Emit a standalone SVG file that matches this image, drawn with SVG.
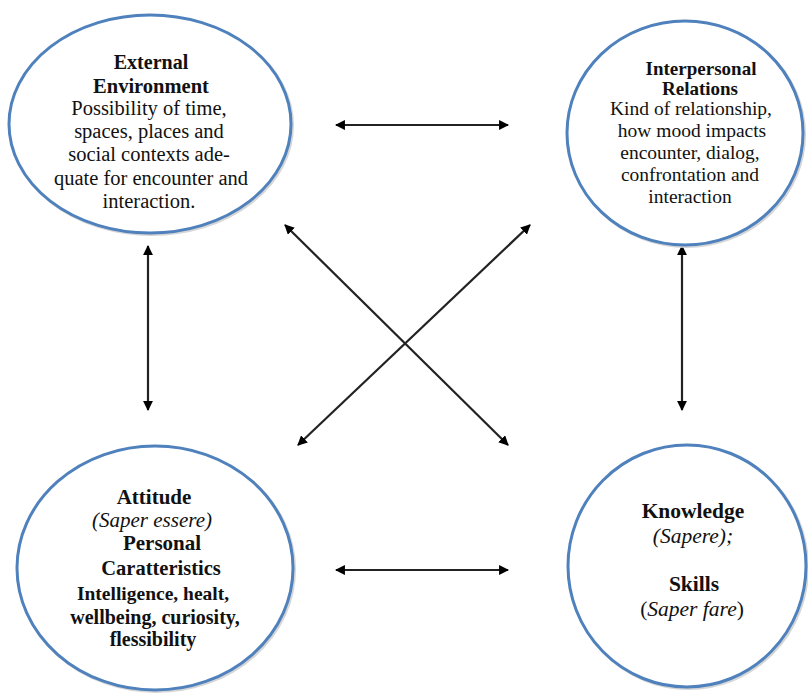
<svg xmlns="http://www.w3.org/2000/svg" width="808" height="693" viewBox="0 0 808 693">
<defs>
<marker id="ah" viewBox="0 0 10 10" refX="9" refY="5" markerWidth="4.5" markerHeight="4.5" orient="auto-start-reverse" markerUnits="strokeWidth">
<path d="M0,0 L10,5 L0,10 z" fill="#000"/>
</marker>
</defs>
<rect width="808" height="693" fill="#fff"/>
<g id="connectors" stroke="#222" stroke-width="2.2" fill="none" marker-start="url(#ah)" marker-end="url(#ah)">
<line x1="336" y1="125" x2="508" y2="125"/>
<line x1="336" y1="570" x2="508" y2="570"/>
<line x1="148" y1="246" x2="148" y2="410"/>
<line x1="682" y1="246" x2="682" y2="410"/>
<line x1="285" y1="225" x2="508" y2="445"/>
<line x1="530" y1="225" x2="298" y2="445"/>
</g>
<g id="external-environment">
<ellipse cx="151.5" cy="125.5" rx="141" ry="109" fill="none" stroke="#d6d6d6" stroke-width="3"/>
<ellipse cx="150" cy="124" rx="141" ry="109" fill="#fff" stroke="#4f81bd" stroke-width="3"/>
<text font-family="Liberation Serif" font-size="20" font-weight="bold" fill="#111" text-anchor="middle" x="151" y="69">External</text>
<text font-family="Liberation Serif" font-size="20.5" font-weight="bold" fill="#111" text-anchor="middle" x="151" y="93">Environment</text>
<text font-family="Liberation Serif" font-size="20.5" fill="#111" text-anchor="middle" x="149" y="115">Possibility of time,</text>
<text font-family="Liberation Serif" font-size="20.5" fill="#111" text-anchor="middle" x="149" y="138">spaces, places and</text>
<text font-family="Liberation Serif" font-size="20.5" fill="#111" text-anchor="middle" x="149" y="161">social contexts ade-</text>
<text font-family="Liberation Serif" font-size="20.5" fill="#111" text-anchor="middle" x="151" y="185">quate for encounter and</text>
<text font-family="Liberation Serif" font-size="20.5" fill="#111" text-anchor="middle" x="149" y="208">interaction.</text>
</g>
<g id="interpersonal-relations">
<ellipse cx="686.5" cy="134.5" rx="118" ry="112" fill="none" stroke="#d6d6d6" stroke-width="3"/>
<ellipse cx="685" cy="133" rx="118" ry="112" fill="#fff" stroke="#4f81bd" stroke-width="3"/>
<text font-family="Liberation Serif" font-size="19" font-weight="bold" fill="#111" text-anchor="middle" x="701" y="75">Interpersonal</text>
<text font-family="Liberation Serif" font-size="19" font-weight="bold" fill="#111" text-anchor="middle" x="700" y="95">Relations</text>
<text font-family="Liberation Serif" font-size="19.5" fill="#111" text-anchor="middle" x="691" y="115">Kind of relationship,</text>
<text font-family="Liberation Serif" font-size="19.5" fill="#111" text-anchor="middle" x="692" y="137">how mood impacts</text>
<text font-family="Liberation Serif" font-size="19.5" fill="#111" text-anchor="middle" x="690" y="159">encounter, dialog,</text>
<text font-family="Liberation Serif" font-size="19.5" fill="#111" text-anchor="middle" x="690" y="181">confrontation and</text>
<text font-family="Liberation Serif" font-size="19.5" fill="#111" text-anchor="middle" x="690" y="203">interaction</text>
</g>
<g id="attitude">
<ellipse cx="156.5" cy="569.5" rx="138" ry="122" fill="none" stroke="#d6d6d6" stroke-width="3"/>
<ellipse cx="155" cy="568" rx="138" ry="122" fill="#fff" stroke="#4f81bd" stroke-width="3"/>
<text font-family="Liberation Serif" font-size="21" font-weight="bold" fill="#111" text-anchor="middle" x="154" y="504">Attitude</text>
<text font-family="Liberation Serif" font-size="21" font-style="italic" fill="#111" text-anchor="middle" x="152" y="527">(Saper essere)</text>
<text font-family="Liberation Serif" font-size="21" font-weight="bold" fill="#111" text-anchor="middle" x="162" y="550">Personal</text>
<text font-family="Liberation Serif" font-size="20.5" font-weight="bold" fill="#111" text-anchor="middle" x="161" y="575">Caratteristics</text>
<text font-family="Liberation Serif" font-size="19.5" font-weight="bold" fill="#111" text-anchor="middle" x="153" y="600">Intelligence, healt,</text>
<text font-family="Liberation Serif" font-size="20" font-weight="bold" fill="#111" text-anchor="middle" x="155" y="624">wellbeing, curiosity,</text>
<text font-family="Liberation Serif" font-size="20" font-weight="bold" fill="#111" text-anchor="middle" x="153" y="646">flessibility</text>
</g>
<g id="knowledge-skills">
<ellipse cx="688.5" cy="567.5" rx="119" ry="121" fill="none" stroke="#d6d6d6" stroke-width="3"/>
<ellipse cx="687" cy="566" rx="119" ry="121" fill="#fff" stroke="#4f81bd" stroke-width="3"/>
<text font-family="Liberation Serif" font-size="21.5" font-weight="bold" fill="#111" text-anchor="middle" x="693" y="518">Knowledge</text>
<text font-family="Liberation Serif" font-size="21.5" font-style="italic" fill="#111" text-anchor="middle" x="693" y="543">(Sapere);</text>
<text font-family="Liberation Serif" font-size="21.5" font-weight="bold" fill="#111" text-anchor="middle" x="694" y="591">Skills</text>
<text font-family="Liberation Serif" font-size="21.5" fill="#111" text-anchor="middle" x="692" y="616">(<tspan font-style="italic">Saper fare</tspan>)</text>
</g>
</svg>
